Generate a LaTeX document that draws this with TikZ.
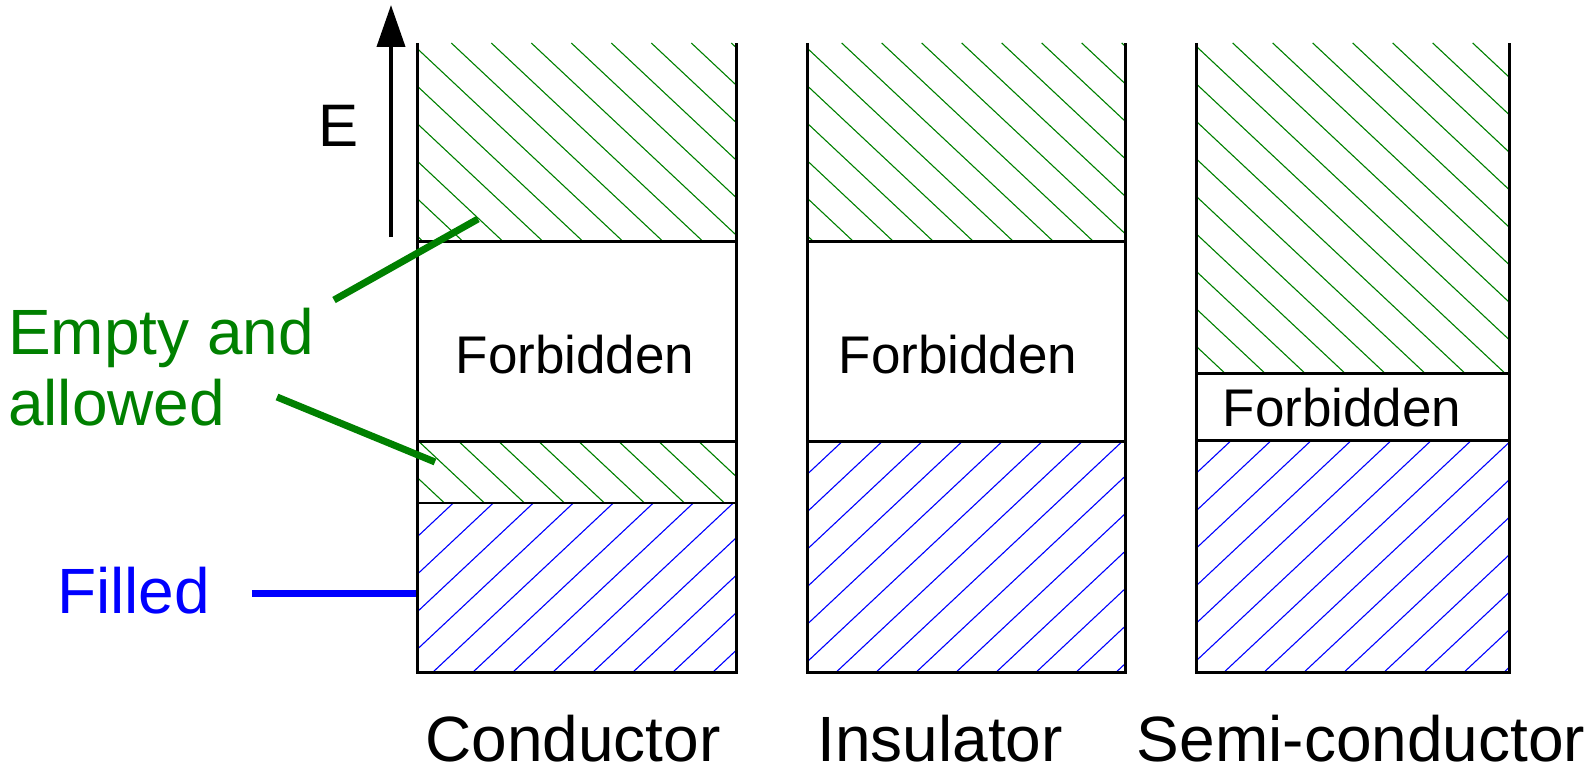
\documentclass[tikz,border=0pt]{standalone}
\usepackage{fontspec}
\setmainfont{Liberation Sans}
\usetikzlibrary{arrows.meta}
\definecolor{verde}{RGB}{0,128,0}
\definecolor{blu}{RGB}{0,0,255}
\tikzset{
    bordo/.style={line width=3pt},
    tratteggio/.style={line width=1.1pt},
    leader/.style={line width=7pt},
    etichetta/.style={inner sep=0pt, anchor=base, text depth=0pt, font=\fontsize{64}{72}\selectfont},
    vietata/.style={inner sep=0pt, anchor=base, font=\fontsize{53}{60}\selectfont},
}
%banda tratteggiata verso il basso (verde) e verso l'alto (blu)
\newcommand{\bandagiu}[6]{%
    \begin{scope}
        \clip (#1,#2) rectangle (#3,#4);
        \foreach \k in {-10,...,20}
            \draw[tratteggio, #5] ({#6+40*\k},#2) --++ (400,375);
    \end{scope}}
\newcommand{\bandasu}[6]{%
    \begin{scope}
        \clip (#1,#2) rectangle (#3,#4);
        \foreach \k in {-10,...,20}
            \draw[tratteggio, #5] ({#6+40*\k},#2) --++ (-400,375);
    \end{scope}}

\begin{document}
\begin{tikzpicture}[x=1pt, y=-1pt]
        \useasboundingbox (0,0) rectangle (1590,768);
        %disegno bande conduttore
        \bandagiu{417}{43}{736}{241}{verde}{411.3}
        \bandagiu{417}{441}{736}{503}{verde}{418.3}
        \bandasu{417}{503}{736}{672}{blu}{413.3}
        %disegno bande isolante
        \bandagiu{807}{43}{1125}{241}{verde}{801.7}
        \bandasu{807}{441}{1125}{672}{blu}{842.7}
        %disegno bande semiconduttore
        \bandagiu{1196}{43}{1509}{373}{verde}{1232.7}
        \bandasu{1196}{440}{1509}{672}{blu}{1231.7}
        %disegno contorni
        \draw[bordo] (417,43)--(417,672)--(736,672)--(736,43);
        \draw[bordo] (417,241)--(736,241) (417,441)--(736,441);
        \draw[line width=2pt] (417,503)--(736,503);
        \draw[bordo] (807,43)--(807,672)--(1125,672)--(1125,43);
        \draw[bordo] (807,241)--(1125,241) (807,441)--(1125,441);
        \draw[bordo] (1196,43)--(1196,672)--(1509,672)--(1509,43);
        \draw[bordo] (1196,373)--(1509,373) (1196,440)--(1509,440);
        %disegno testi
        \node[vietata] (vietata1) at (575,373) {Forbidden};
        \node[vietata] (vietata2) at (958,373) {Forbidden};
        \node[vietata] (vietata3) at (1342,426) {Forbidden};
        \node[etichetta] (conduttore) at (573,761) {Conductor};
        \node[etichetta] (isolante) at (940,761) {Insulator};
        \node[etichetta] (semicond) at (1361,761) {Semi-conductor};
        \node[etichetta, anchor=base west, text=verde] (vuota1) at (8,354) {Empty and};
        \node[etichetta, anchor=base west, text=verde] (vuota2) at (8,425) {allowed};
        \node[etichetta, anchor=base west, text=blu] (piena) at (57,613) {Filled};
        \node[etichetta, anchor=base west, font=\fontsize{60}{70}\selectfont] (energia) at (318,146) {E};
        %disegno asse E
        \coordinate (ebasso) at (391,237);
        \coordinate (ealto) at (391,5);
        \draw[-{Triangle[length=42pt, width=28pt]}, line width=4pt] (ebasso)--(ealto);
        %disegno linee di richiamo
        \coordinate (v1a) at (334,300);
        \coordinate (v1b) at (478,219);
        \coordinate (v2a) at (277,397);
        \coordinate (v2b) at (435,462);
        \coordinate (pa) at (252,593);
        \coordinate (pb) at (416,593);
        \draw[leader, verde] (v1a)--(v1b);
        \draw[leader, verde] (v2a)--(v2b);
        \draw[leader, blu] (pa)--(pb);
    \end{tikzpicture}
\end{document}
